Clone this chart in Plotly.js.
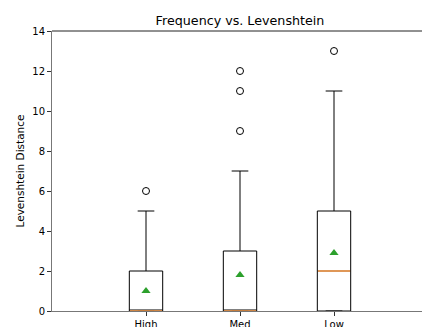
<!DOCTYPE html>
<html>
<head>
<meta charset="utf-8">
<script src="https://cdn.plot.ly/plotly-3.0.1.min.js"></script>
<style>
html,body{margin:0;padding:0;overflow:hidden;background:#fff;}
#chart{width:430px;height:327px;}
</style>
</head>
<body>
<div id="chart"></div>
<script>
// Data
const categories = ["High", "Med", "Low"];
const positions = [1, 2, 3];
const q1 = [0, 0, 0];
const medians = [0, 0, 2];
const q3 = [2, 3, 5];
const lowerWhisker = [0, 0, 0];
const upperWhisker = [5, 7, 11];
const means = [1.0, 1.8, 2.9];
const outliers = [[6], [9, 11, 12], [13]];
const yTicks = [0, 2, 4, 6, 8, 10, 12, 14];

const boxWidth = 0.355;
const font = "DejaVu Sans, sans-serif";

const traces = [];
// boxes
traces.push({
  type: "box",
  x: positions,
  q1: q1,
  median: medians,
  q3: q3,
  lowerfence: lowerWhisker,
  upperfence: upperWhisker,
  width: boxWidth,
  whiskerwidth: 0.5,
  fillcolor: "rgba(0,0,0,0)",
  line: {color: "#000", width: 1},
  boxpoints: false,
  hoverinfo: "skip",
  showlegend: false
});
// median lines (orange)
const mx = [], my = [];
positions.forEach((p, i) => {
  mx.push(p - boxWidth / 2 + 0.006, p + boxWidth / 2 - 0.006, null);
  my.push(medians[i], medians[i], null);
});
traces.push({
  type: "scatter", mode: "lines", x: mx, y: my,
  line: {color: "#ff9f4a", width: 1.6},
  hoverinfo: "skip", showlegend: false, cliponaxis: true
});
// outliers
const ox = [], oy = [];
outliers.forEach((arr, i) => arr.forEach(v => { ox.push(positions[i]); oy.push(v); }));
traces.push({
  type: "scatter", mode: "markers", x: ox, y: oy,
  marker: {symbol: "circle-open", size: 7, color: "#000", line: {width: 1}},
  hoverinfo: "skip", showlegend: false
});
// means
traces.push({
  type: "scatter", mode: "markers", x: positions, y: means,
  marker: {symbol: "triangle-up", size: 8, color: "#2ca02c"},
  hoverinfo: "skip", showlegend: false
});

const layout = {
  width: 430, height: 327,
  margin: {l: 52, r: 2, t: 31, b: 16},
  paper_bgcolor: "#fff", plot_bgcolor: "#fff",
  font: {family: font, size: 10, color: "#000"},
  title: {
    text: "Frequency vs. Levenshtein",
    font: {family: font, size: 12.7, color: "#000"},
    x: 0.5, xref: "paper", xanchor: "center",
    y: 1, yref: "paper", yanchor: "bottom",
    pad: {b: 6}
  },
  xaxis: {
    range: [0, 4],
    tickvals: positions,
    ticktext: categories,
    showgrid: false, zeroline: false,
    showline: true, linecolor: "#777", linewidth: 1,
    ticks: "outside", ticklen: 3.5, tickcolor: "#333", tickwidth: 1,
    tickfont: {family: font, size: 10, color: "#000"}
  },
  yaxis: {
    range: [0, 14],
    tickvals: yTicks,
    showgrid: false, zeroline: false,
    showline: true, linecolor: "#777", linewidth: 1.5,
    ticks: "outside", ticklen: 3.5, tickcolor: "#333", tickwidth: 1,
    tickfont: {family: font, size: 10, color: "#000"},
    title: {text: "Levenshtein Distance", font: {family: font, size: 10.5, color: "#000"}, standoff: 5}
  },
  shapes: [{
    type: "line", xref: "paper", yref: "paper",
    x0: 0, x1: 1, y0: 1, y1: 1,
    line: {color: "#222", width: 1}
  }]
};

Plotly.newPlot("chart", traces, layout, {staticPlot: true, displayModeBar: false});
</script>
</body>
</html>
